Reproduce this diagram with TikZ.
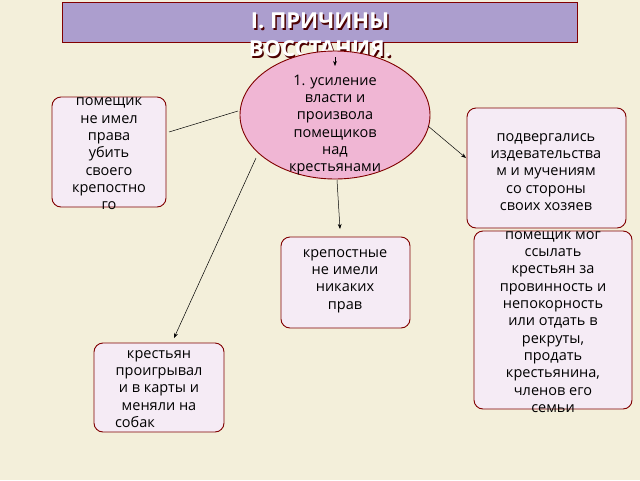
\documentclass[tikz,border=0pt]{standalone}
\usepackage{fontspec}
\setmainfont{Open Sans}
\usetikzlibrary{shapes.geometric,arrows.meta}
\begin{document}
\begin{tikzpicture}[x=1pt,y=-1pt,
  bx/.style={draw=red!50!black,line width=0.9pt,fill=violet!8,rounded corners=9pt},
  tx/.style={align=center,font=\fontsize{14.5}{17.3}\selectfont,inner sep=0pt},
  ttl/.style={font=\bfseries\fontsize{22}{22}\selectfont,text=white},
  arr/.style={-{Stealth[length=5pt]},line width=0.5pt}]
\useasboundingbox[fill={rgb,255:red,243;green,239;blue,218}] (0,0) rectangle (640,480);
\draw[fill={rgb,255:red,172;green,158;blue,206},draw=red!50!black,line width=0.8pt] (62,2) rectangle (577,42);
\node[ttl,text=red!30!black] at (321.5,22.5) {I. ПРИЧИНЫ};
\node[ttl,text=red!30!black] at (321.5,50.5) {ВОССТАНИЯ.};
\node (t1) at (320,21) [ttl] {I. ПРИЧИНЫ};
\node (t2) at (320,49) [ttl] {ВОССТАНИЯ.};
\node (e) at (335,115) [ellipse,draw=red!50!black,line width=0.9pt,fill={rgb,255:red,240;green,182;blue,212},minimum width=190pt,minimum height=128pt] {};
\node[tx] at (335,125) {1. усиление\\власти и\\произвола\\помещиков\\над\\крестьянами};
\draw[bx] (52,97) rectangle (166,207);
\node (b1) at (109,152) {};
\node[tx] at (109,154) {помещик\\не имел\\права\\убить\\своего\\крепостно\\го};
\draw[bx] (467,108) rectangle (626,228);
\node (b2) at (546,168) {};
\node[tx] at (546,172) {подвергались\\издевательства\\м и мучениям\\со стороны\\своих хозяев};
\draw[bx] (281,237) rectangle (410,328);
\node (b3) at (345,282) {};
\node[tx] at (345,281) {крепостные\\не имели\\никаких\\прав};
\draw[bx] (474,231) rectangle (632,409);
\node (b4) at (553,320) {};
\node[tx] at (553,322) {помещик мог\\ссылать\\крестьян за\\провинность и\\непокорность\\или отдать в\\рекруты,\\продать\\крестьянина,\\членов его\\семьи};
\draw[bx] (94,343) rectangle (224,432);
\node (b5) at (159,388) {};
\node[tx] at (159,389) {крестьян\\проигрывал\\и в карты и\\меняли на\\собак\hspace*{48pt}};
\coordinate (a0) at (335,57); \coordinate (a0e) at (335,66);
\draw[arr] (a0) -- (a0e);
\coordinate (e1) at (238,111); \coordinate (b1e) at (169,132);
\draw[line width=0.5pt] (e1) -- (b1e);
\coordinate (e2) at (428,126); \coordinate (b2e) at (466,158);
\draw[arr] (e2) -- (b2e);
\coordinate (e3) at (337,180); \coordinate (b3e) at (340,229);
\draw[arr] (e3) -- (b3e);
\coordinate (e5) at (256,158); \coordinate (b5e) at (174,338);
\draw[arr] (e5) -- (b5e);
\end{tikzpicture}
\end{document}
